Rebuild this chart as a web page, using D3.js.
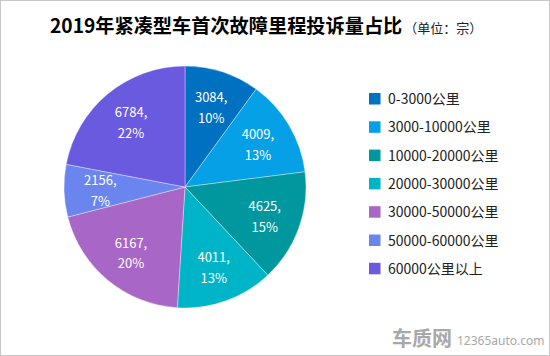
<!DOCTYPE html>
<html><head><meta charset="utf-8">
<script src="https://cdn.jsdelivr.net/npm/d3@7"></script>
<style>body{margin:0;background:#fff;font-family:"Noto Sans CJK SC","Noto Sans",sans-serif;}</style>
</head><body>
<svg id="chart" width="550" height="356"></svg>
<script>
const categories = ["0-3000公里","3000-10000公里","10000-20000公里","20000-30000公里","30000-50000公里","50000-60000公里","60000公里以上"];
const values = [3084, 4009, 4625, 4011, 6167, 2156, 6784];
const colors = ["#0070C0","#05A0E6","#00979E","#00B4C8","#A866C6","#6A86EE","#6A5AE0"];
const title = "2019年紧凑型车首次故障里程投诉量占比";
const subtitle = "（单位：宗）";

const svg = d3.select("#chart");
svg.append("rect").attr("x",0.5).attr("y",0.5).attr("width",549).attr("height",355)
  .attr("fill","#fff").attr("stroke","#c8c8c8");

const t = svg.append("text").attr("x",50).attr("y",33).attr("fill","#000")
  .style("font-family","'Noto Sans CJK SC'");
t.append("tspan").attr("font-size",19.2).attr("font-weight","bold").text(title);
t.append("tspan").attr("font-size",13).attr("fill","#222").attr("dx",2).text(subtitle);

const cx=185, cy=187, R=121;
const total = d3.sum(values);
const pie = d3.pie().sort(null).value(d=>d)(values);
const arc = d3.arc().innerRadius(0).outerRadius(R);
const labelArc = d3.arc().innerRadius(R*0.7).outerRadius(R*0.7);
const g = svg.append("g").attr("transform",`translate(${cx},${cy})`);
g.selectAll("path").data(pie).join("path").attr("d",arc)
  .attr("fill",(d,i)=>colors[i]).attr("stroke","#ffffff").attr("stroke-width",0.6).attr("stroke-opacity",0.6);
const lab = g.selectAll("text.lab").data(pie).join("text").attr("class","lab")
  .attr("transform",d=>`translate(${labelArc.centroid(d)})`)
  .attr("text-anchor","middle").attr("fill","#fff").attr("font-size",13)
  .style("font-family","'Noto Sans CJK SC'");
lab.append("tspan").attr("x",0).attr("dy","-0.35em").text(d=>d.data+",");
lab.append("tspan").attr("x",0).attr("dy","1.6em").text(d=>Math.round(d.data/total*100)+"%");

const leg = svg.append("g").attr("transform","translate(369,93)");
const yStep = 28.3;
categories.forEach((c,i)=>{
  const row = leg.append("g").attr("transform",`translate(0,${i*yStep})`);
  row.append("rect").attr("width",11.5).attr("height",11.5).attr("fill",colors[i]);
  row.append("text").attr("x",19).attr("y",11).attr("font-size",14).attr("fill","#222")
    .style("font-family","'Noto Sans CJK SC'").text(c);
});

const wm = svg.append("g").attr("transform","translate(392,346)");
wm.append("text").attr("x",0).attr("y",0).attr("font-size",20).attr("font-weight","bold")
  .attr("fill","#a8a8a8").style("font-family","'Noto Sans CJK SC'").text("车质网");
wm.append("text").attr("x",65).attr("y",-1).attr("font-size",12).attr("fill","#a8a8a8")
  .style("font-family","'Noto Sans'").text("12365auto.com");
</script>
</body></html>
